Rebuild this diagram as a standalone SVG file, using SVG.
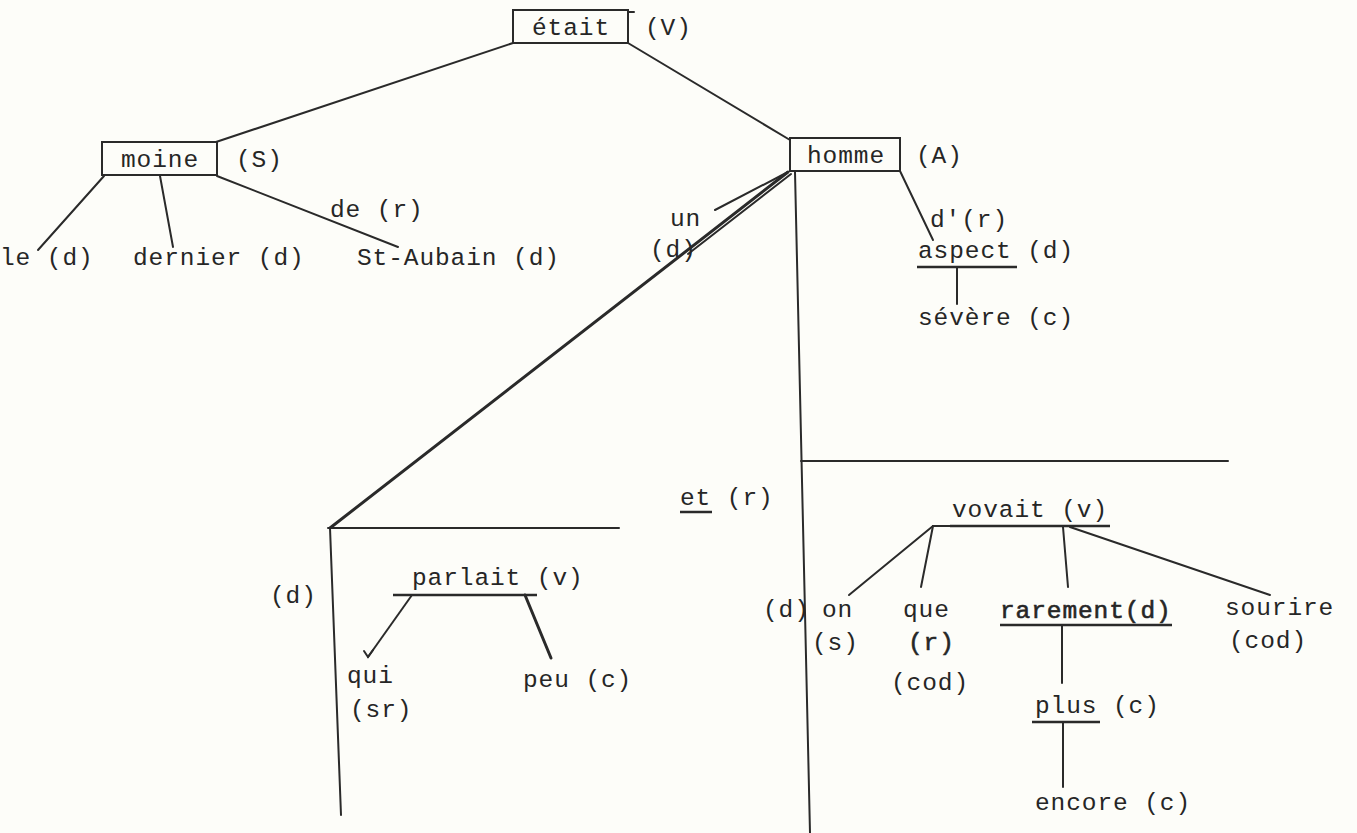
<svg xmlns="http://www.w3.org/2000/svg" width="1357" height="833" viewBox="0 0 1357 833">
<style>
text{font-family:"Liberation Mono","DejaVu Sans Mono",monospace;font-size:24.5px;letter-spacing:0.9px;fill:#262626}
.c{text-anchor:middle}
.b{stroke:#262626;stroke-width:0.6}
.box{fill:#fdfdf9;stroke:#2a2a2a;stroke-width:2}
#connectors line,#connectors path{stroke:#2a2a2a;stroke-width:2;fill:none;stroke-linecap:round}
.ul{stroke:#2a2a2a;stroke-width:2.5}
.thick{stroke-width:3!important}
</style>
<rect width="1357" height="833" fill="#fdfdf9"/>
<g id="connectors">
<line x1="513" y1="43" x2="213" y2="143"/>
<line x1="628" y1="43" x2="790" y2="140"/>
<line x1="628" y1="12" x2="634" y2="12"/>
<line x1="104" y1="176" x2="38" y2="250"/>
<line x1="160" y1="176" x2="173" y2="247"/>
<line x1="217" y1="176" x2="398" y2="247"/>
<line x1="788" y1="172" x2="715" y2="210"/>
<line x1="788" y1="172" x2="330" y2="528" class="thick"/>
<line x1="791" y1="174" x2="688" y2="254"/>
<line x1="795" y1="172" x2="810" y2="833"/>
<line x1="900" y1="171" x2="933" y2="240"/>
<line x1="957" y1="267" x2="957" y2="304"/>
<line x1="328" y1="528" x2="619" y2="528"/>
<line x1="330" y1="528" x2="341" y2="815"/>
<line x1="412" y1="595" x2="368" y2="657"/>
<path d="M364 651 L368 657 L373 650"/>
<line x1="525" y1="595" x2="551" y2="658" class="thick"/>
<line x1="801" y1="461" x2="1228" y2="461"/>
<line x1="933" y1="526" x2="950" y2="526"/>
<line x1="933" y1="526" x2="849" y2="595"/>
<line x1="933" y1="526" x2="921" y2="587"/>
<line x1="1063" y1="527" x2="1068" y2="587"/>
<line x1="1070" y1="527" x2="1270" y2="595"/>
<line x1="1062" y1="626" x2="1062" y2="683"/>
<line x1="1063" y1="723" x2="1063" y2="787"/>
</g>
<g id="n-etait"><rect class="box" x="513" y="10" width="115" height="33"/><text class="c" x="571" y="35">était</text><text x="645" y="35">(V)</text></g>
<g id="n-moine"><rect class="box" x="102" y="142" width="115" height="33"/><text class="c" x="160" y="167">moine</text><text x="236" y="167">(S)</text></g>
<g id="n-homme"><rect class="box" x="790" y="138" width="110" height="33"/><text class="c" x="846" y="163">homme</text><text x="916" y="163">(A)</text></g>
<g id="n-le"><text x="0" y="265">le (d)</text></g>
<g id="n-dernier"><text x="133" y="265">dernier (d)</text></g>
<g id="n-de"><text x="330" y="217">de (r)</text></g>
<g id="n-staubain"><text x="357" y="265">St-Aubain (d)</text></g>
<g id="n-un"><text x="670" y="226">un</text><text x="650" y="257">(d)</text></g>
<g id="n-d"><text x="930" y="227">d'(r)</text></g>
<g id="n-aspect"><text x="918" y="258">aspect (d)</text><line class="ul" x1="917" y1="267" x2="1017" y2="267"/></g>
<g id="n-severe"><text x="918" y="325">sévère (c)</text></g>
<g id="n-et"><text x="680" y="505">et (r)</text><line class="ul" x1="680" y1="512" x2="712" y2="512"/></g>
<g id="n-parlait"><text x="412" y="585">parlait (v)</text><line class="ul" x1="393" y1="595" x2="537" y2="595"/></g>
<g id="n-d-left"><text x="270" y="603">(d)</text></g>
<g id="n-qui"><text x="347" y="683">qui</text><text x="350" y="717">(sr)</text></g>
<g id="n-peu"><text x="523" y="687">peu (c)</text></g>
<g id="n-vovait"><text x="952" y="517">vovait (v)</text><line class="ul" x1="950" y1="526" x2="1110" y2="526"/></g>
<g id="n-d-right"><text x="763" y="617">(d)</text></g>
<g id="n-on"><text x="822" y="617">on</text><text x="812" y="650">(s)</text></g>
<g id="n-que"><text x="903" y="617">que</text><text class="b" x="908" y="650">(r)</text><text x="891" y="690">(cod)</text></g>
<g id="n-rarement"><text class="b" x="1000" y="618">rarement(d)</text><line class="ul" x1="1000" y1="625" x2="1172" y2="625"/></g>
<g id="n-sourire"><text x="1225" y="615">sourire</text><text x="1229" y="648">(cod)</text></g>
<g id="n-plus"><text x="1035" y="713">plus (c)</text><line class="ul" x1="1032" y1="722" x2="1100" y2="722"/></g>
<g id="n-encore"><text x="1035" y="810">encore (c)</text></g>
</svg>
